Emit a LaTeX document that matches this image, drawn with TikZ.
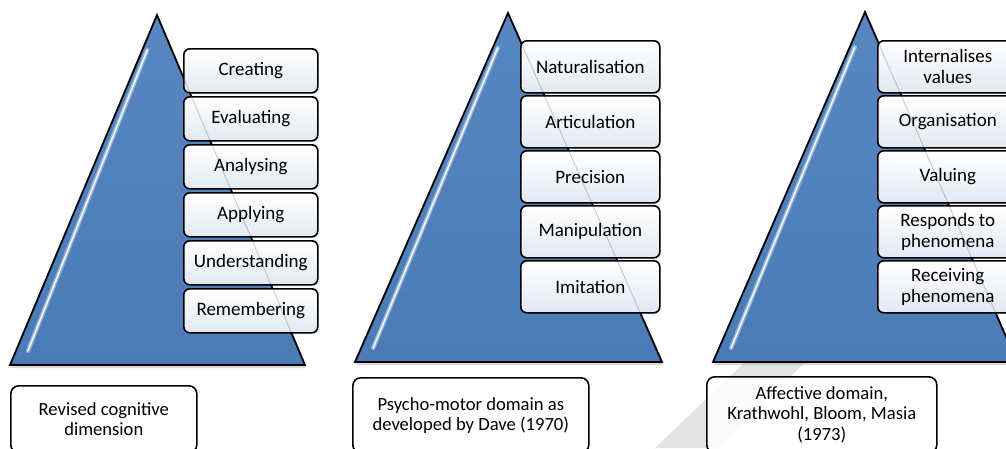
\documentclass[tikz,border=0pt]{standalone}
\usepackage{fontspec}
\setmainfont{Carlito}
\usetikzlibrary{calc,shadows}
\definecolor{pyrblue}{HTML}{4F81BD}
\definecolor{pyrdark}{HTML}{4A7BB6}
\definecolor{boxbot}{HTML}{E2E8F2}
\definecolor{stripe}{HTML}{E3E3E3}

\begin{document}
\begin{tikzpicture}[x=1pt, y=-1pt,
  pyramid/.style={draw=black, line width=1.8pt, line join=miter,
    top color=pyrblue!95!white, bottom color=pyrdark,
    drop shadow={shadow xshift=1pt, shadow yshift=-3pt, opacity=0.3}},
  glint/.style={white, line width=1.6pt, line cap=round, opacity=0.9},
  glow/.style={pyrblue!35!white, line width=4.5pt, line cap=round, opacity=0.55},
  seethru/.style={black, line width=1pt, opacity=0.18},
  level/.style={draw=black, line width=1.6pt, rounded corners=6pt,
    top color=white, bottom color=boxbot, inner sep=0pt,
    anchor=north west, align=center, font=\fontsize{19}{21}\selectfont,
    drop shadow={shadow xshift=1pt, shadow yshift=-1.5pt, opacity=0.2}},
  caption/.style={draw=black, line width=1.6pt, rounded corners=8pt,
    fill=white, fill opacity=0.85, text opacity=1, inner sep=0pt,
    anchor=north west, align=center, font=\fontsize{18.6}{20.5}\selectfont}]

% page size and clip
\useasboundingbox (0,0) rectangle (1006,448);
\clip (0,0) rectangle (1006,448);

% faint background stripe
\fill[stripe] (655,448) -- (745,362) -- (805,362) -- (719,448) -- cycle;

% --- cognitive pyramid (left) ---
\begin{scope}[xshift=157pt]
  \coordinate (cogtop) at (0,15);
  \coordinate (cogbl) at (-147,365);
  \coordinate (cogbr) at (148,365);
  \draw[pyramid] (cogtop) -- (cogbl) -- (cogbr) -- cycle;
  \draw[glow] ($(cogtop)!0.1!(cogbl)+(5,0)$) -- ($(cogtop)!0.96!(cogbl)+(12,0)$);
  \draw[glint] ($(cogtop)!0.1!(cogbl)+(5,0)$) -- ($(cogtop)!0.96!(cogbl)+(12,0)$);
  % levels, top to bottom
  \foreach \txt [count=\i] in {Creating, Evaluating, Analysing, Applying,
      Understanding, Remembering}{
    \pgfmathsetmacro{\ytop}{48 + 48*(\i-1)}
    \node[level, minimum width=134pt, minimum height=44pt] (cog\i) at (26,\ytop) {\txt};
  }
  \draw[seethru] (cogtop) -- (cogbr);
  \node[caption, minimum width=186pt, minimum height=67pt] (cogcap) at (-147,385)
    {Revised cognitive\\dimension};
\end{scope}

% --- psycho-motor pyramid (middle) ---
\begin{scope}[xshift=508pt]
  \coordinate (psytop) at (0,13);
  \coordinate (psybl) at (-153,362);
  \coordinate (psybr) at (154,362);
  \draw[pyramid] (psytop) -- (psybl) -- (psybr) -- cycle;
  \draw[glow] ($(psytop)!0.1!(psybl)+(5,0)$) -- ($(psytop)!0.96!(psybl)+(12,0)$);
  \draw[glint] ($(psytop)!0.1!(psybl)+(5,0)$) -- ($(psytop)!0.96!(psybl)+(12,0)$);
  \foreach \txt [count=\i] in {Naturalisation, Articulation, Precision,
      Manipulation, Imitation}{
    \pgfmathsetmacro{\ytop}{40 + 55*(\i-1)}
    \node[level, minimum width=139pt, minimum height=52pt] (psy\i) at (12,\ytop) {\txt};
  }
  \draw[seethru] (psytop) -- (psybr);
  \node[caption, minimum width=236pt, minimum height=75pt] (psycap) at (-156,377)
    {Psycho-motor domain as\\developed by Dave (1970)};
\end{scope}

% --- affective pyramid (right) ---
\begin{scope}[xshift=865pt]
  \coordinate (afftop) at (0,12);
  \coordinate (affbl) at (-152,362);
  \coordinate (affbr) at (152,362);
  \draw[pyramid] (afftop) -- (affbl) -- (affbr) -- cycle;
  \draw[glow] ($(afftop)!0.1!(affbl)+(5,0)$) -- ($(afftop)!0.96!(affbl)+(12,0)$);
  \draw[glint] ($(afftop)!0.1!(affbl)+(5,0)$) -- ($(afftop)!0.96!(affbl)+(12,0)$);
  \foreach \txt [count=\i] in {{Internalises\\values}, Organisation, Valuing,
      {Responds to\\phenomena}, {Receiving\\phenomena}}{
    \pgfmathsetmacro{\ytop}{40 + 55*(\i-1)}
    \node[level, minimum width=140pt, minimum height=52pt] (aff\i) at (12,\ytop) {\txt};
  }
  \draw[seethru] (afftop) -- (affbr);
  \node[caption, minimum width=230pt, minimum height=76pt] (affcap) at (-159,376)
    {Affective domain,\\Krathwohl, Bloom, Masia\\(1973)};
\end{scope}

\end{tikzpicture}
\end{document}
